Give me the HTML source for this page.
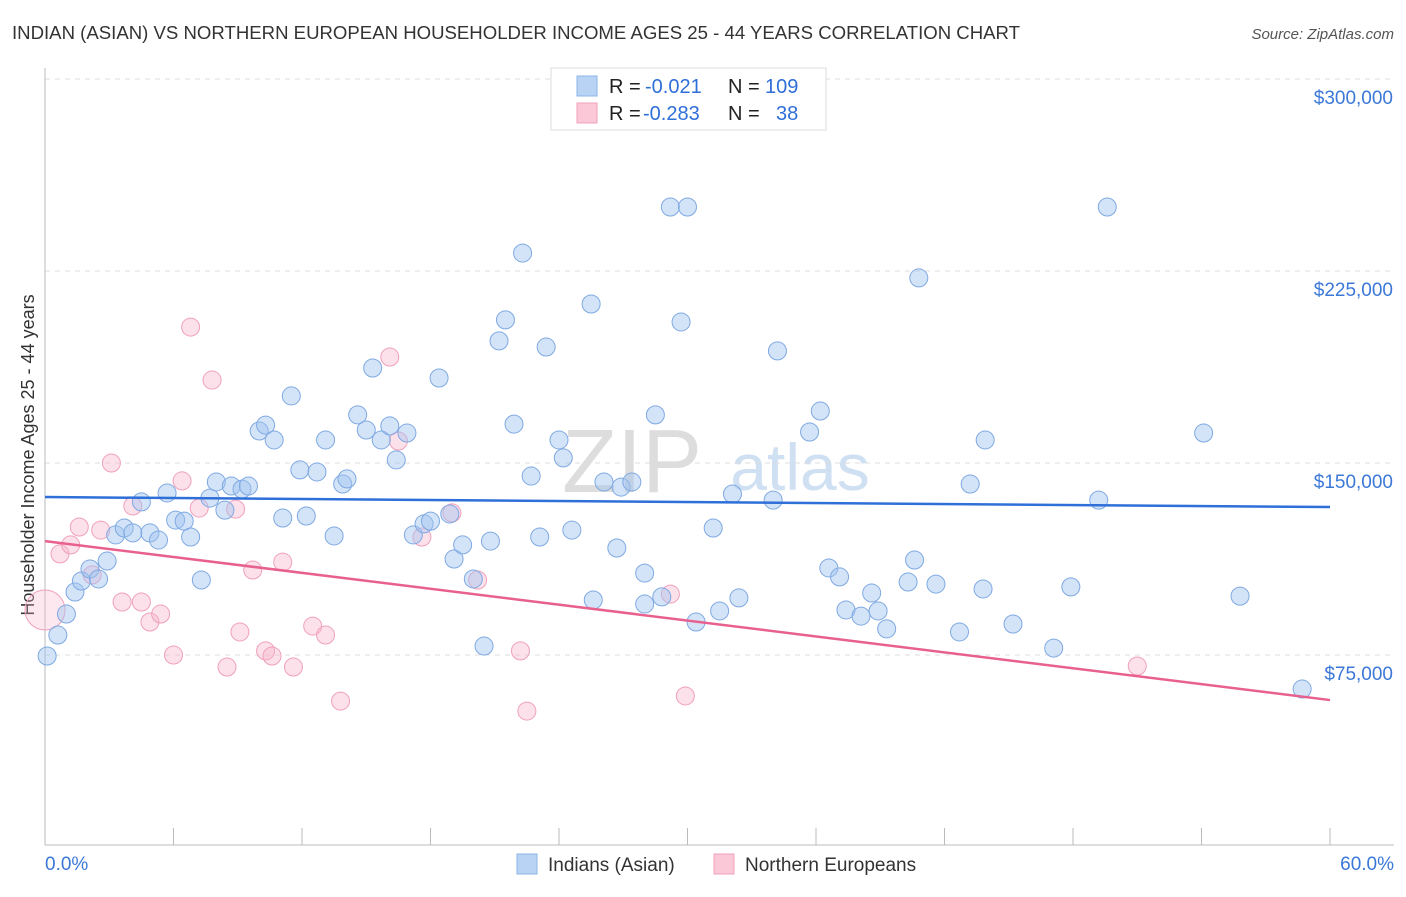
<!DOCTYPE html>
<html><head><meta charset="utf-8"><style>
body{margin:0;background:#fff;font-family:"Liberation Sans",sans-serif;}
svg text{font-family:"Liberation Sans",sans-serif;}
</style></head><body>
<svg id="chart" width="1406" height="892">
<text x="12" y="39" font-size="18" fill="#333" textLength="1008" lengthAdjust="spacingAndGlyphs">INDIAN (ASIAN) VS NORTHERN EUROPEAN HOUSEHOLDER INCOME AGES 25 - 44 YEARS CORRELATION CHART</text>
<text x="1394" y="39" font-size="15" fill="#555" text-anchor="end" font-style="italic">Source: ZipAtlas.com</text>
<text x="632" y="492" font-size="90" fill="#ddd" font-family="Liberation Serif" text-anchor="middle">ZIP</text>
<text x="800" y="490" font-size="66" fill="#cfe0f3" text-anchor="middle">atlas</text>
<text transform="translate(34,455) rotate(-90)" font-size="18" fill="#333" text-anchor="middle">Householder Income Ages 25 - 44 years</text>
<g id="grid"></g><g id="marks"></g>
<g>
<rect x="551" y="68" width="275" height="62" fill="#fff" stroke="#ddd"/>
<rect x="577" y="76" width="20" height="20" fill="#b9d3f5" stroke="#8ab4e8"/>
<rect x="577" y="103" width="20" height="20" fill="#fbc8d8" stroke="#f0a0bc"/>
<text x="609" y="93" font-size="20" fill="#222">R =</text>
<text x="645" y="93" font-size="20" fill="#2f6fd8">-0.021</text>
<text x="728" y="93" font-size="20" fill="#222">N =</text>
<text x="765" y="93" font-size="20" fill="#2f6fd8">109</text>
<text x="609" y="120" font-size="20" fill="#222">R =</text>
<text x="643" y="120" font-size="20" fill="#2f6fd8">-0.283</text>
<text x="728" y="120" font-size="20" fill="#222">N =</text>
<text x="776" y="120" font-size="20" fill="#2f6fd8">38</text>
</g>
<g>
<rect x="517" y="854" width="20" height="20" fill="#b9d3f5" stroke="#8ab4e8"/>
<text x="548" y="871" font-size="19" fill="#333">Indians (Asian)</text>
<rect x="714" y="854" width="20" height="20" fill="#fbc8d8" stroke="#f0a0bc"/>
<text x="745" y="871" font-size="19" fill="#333">Northern Europeans</text>
</g>
</svg>
<script>
const yTicks=[75000,150000,225000,300000];
const yTickLabels=["$75,000","$150,000","$225,000","$300,000"];
const xTicks=[0,6,12,18,24,30,36,42,48,54,60];
const blueX=[0.1,0.6,1.0,1.4,1.7,2.1,2.5,2.9,3.3,3.7,4.1,4.5,4.9,5.3,5.7,6.1,6.5,6.8,7.3,7.7,8.0,8.4,8.7,9.2,9.5,10.0,10.3,10.7,11.1,11.5,11.9,12.2,12.7,13.1,13.5,13.9,14.1,14.6,15.0,15.3,15.7,16.1,16.4,16.9,18.4,17.2,17.7,18.0,18.9,19.1,19.5,20.0,20.5,20.8,21.2,21.5,21.9,22.3,22.7,23.1,23.4,24.0,24.2,24.6,25.5,25.6,26.1,26.7,26.9,27.4,28.0,28.0,28.5,28.8,29.2,29.7,30.0,30.4,31.2,31.5,32.1,32.4,34.0,34.2,35.7,36.2,36.6,37.1,37.4,38.1,38.6,38.9,39.3,40.3,40.6,40.8,41.6,42.7,43.2,43.8,43.9,45.2,47.1,47.9,49.2,49.6,54.1,55.8,58.7];
const blueY=[74.6,82.8,91.0,99.6,103.9,108.6,104.7,111.7,121.9,124.6,122.7,134.8,122.7,119.9,138.3,127.7,127.3,121.1,104.3,136.3,142.6,131.6,141.0,139.8,141.0,162.5,164.8,159.0,128.5,176.2,147.3,129.3,146.5,159.0,121.5,141.8,143.8,168.8,162.9,187.1,159.0,164.5,151.2,161.7,183.2,121.9,126.2,127.3,130.1,112.5,118.0,104.7,78.5,119.5,197.7,205.9,165.2,232.0,144.9,121.1,195.3,159.0,152.0,123.8,212.1,96.5,142.6,116.8,140.6,142.6,107.0,94.9,168.8,97.7,250.0,205.1,250.0,87.9,124.6,92.2,137.9,97.3,135.5,193.8,162.1,170.3,109.0,105.5,92.6,90.2,99.2,92.2,85.2,103.5,112.1,222.3,102.7,84.0,141.8,100.8,159.0,87.1,77.7,101.6,135.5,250.0,161.7,98.0,61.7];
const pinkX=[0.0,0.7,1.2,1.6,2.2,2.6,3.1,3.6,4.1,4.5,4.9,5.4,6.0,6.4,6.8,7.2,7.8,8.5,8.9,9.1,9.7,10.3,10.6,11.1,11.6,12.5,13.1,13.8,16.1,16.5,17.6,19.0,20.2,22.2,22.5,29.2,29.9,51.0];
const pinkY=[92.6,114.5,118.0,125.0,106.3,123.8,150.0,95.7,133.2,95.7,87.9,91.0,75.0,143.0,203.1,132.4,182.4,70.3,132.0,84.0,108.2,76.6,74.6,111.3,70.3,86.3,82.8,57.0,191.4,158.6,121.1,130.5,104.3,76.6,53.1,98.8,59.0,70.7];
const blueTrend=[136.7,132.8];
const pinkTrend=[119.5,57.4];
const xs=p=>45+p*(1285/60);
const ys=k=>655-(k-75)*2.56;
const NS="http://www.w3.org/2000/svg";
function mk(t,a,p){const e=document.createElementNS(NS,t);for(const k in a)e.setAttribute(k,a[k]);p.appendChild(e);return e;}
const grid=document.getElementById('grid'),marks=document.getElementById('marks');
yTicks.forEach((v,i)=>{const y=ys(v/1000);
const l=mk('line',{x1:45,x2:1394,y1:y,y2:y,stroke:'#ddd','stroke-dasharray':'5,5'},grid);


const t=mk('text',{x:1393,y:y+25,'font-size':19,fill:'#3b78d8','text-anchor':'end'},grid);t.textContent=yTickLabels[i];

});
const ax=mk('line',{x1:45,x2:1394,y1:845,y2:845,stroke:'#bbb'},grid);


const ay=mk('line',{x1:45,x2:45,y1:68,y2:845,stroke:'#bbb'},grid);


xTicks.forEach(v=>{const x=xs(v);const t=mk('line',{x1:x,x2:x,y1:828,y2:845,stroke:'#bbb'},grid);

});
const xl0=mk('text',{x:45,y:870,'font-size':19,fill:'#3b78d8'},grid);xl0.textContent=xTicks[0].toFixed(1)+'%';


const xl1=mk('text',{x:1394,y:870,'font-size':19,fill:'#3b78d8','text-anchor':'end'},grid);xl1.textContent=xTicks[xTicks.length-1].toFixed(1)+'%';


pinkX.forEach((v,i)=>{const c=mk('circle',{cx:xs(v),cy:ys(pinkY[i]),r:i===0?20:9,fill:i===0?'rgba(248,180,202,0.3)':'rgba(248,180,202,0.4)',stroke:'#f0a0bc','stroke-width':1},marks);

});
blueX.forEach((v,i)=>{const c=mk('circle',{cx:xs(v),cy:ys(blueY[i]),r:9,fill:'rgba(160,195,240,0.45)',stroke:'#7fa9e2','stroke-width':1},marks);

});
const bt=mk('line',{x1:xs(0),x2:xs(60),y1:ys(blueTrend[0]),y2:ys(blueTrend[1]),stroke:'#2f6fd8','stroke-width':2.5},marks);


const pt=mk('line',{x1:xs(0),x2:xs(60),y1:ys(pinkTrend[0]),y2:ys(pinkTrend[1]),stroke:'#e8608e','stroke-width':2.5},marks);


</script>
</body></html>
